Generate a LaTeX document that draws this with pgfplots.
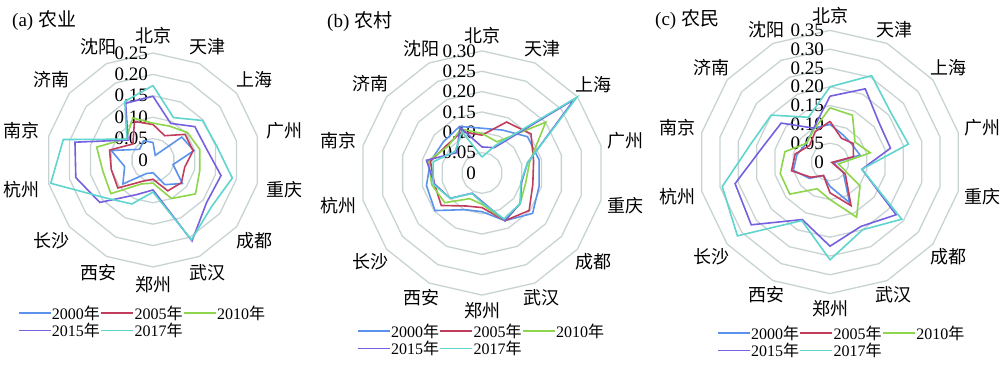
\documentclass[border=0pt]{standalone}
\usepackage{pgfplots}
\pgfplotsset{compat=1.18}
\usepackage{pgfplotstable}
\usepackage{fontspec}
\setmainfont{Liberation Serif}
\newfontfamily\cjk{Noto Sans CJK SC}
\definecolor{c00}{HTML}{5A92EC}
\definecolor{c05}{HTML}{C13D5E}
\definecolor{c10}{HTML}{8DD64C}
\definecolor{c15}{HTML}{7560E0}
\definecolor{c17}{HTML}{5ED5CD}
\definecolor{gridc}{HTML}{C8D3D3}

% columns: k = category index (0 北京 ... 13 沈阳, 14 = 北京 again to close)
\pgfplotstableread{
k y00 y05 y10 y15 y17
0 0.041 0.083 0.086 0.149 0.174
1 0.012 0.063 0.088 0.095 0.110
2 0.086 0.096 0.103 0.125 0.148
3 0.098 0.096 0.112 0.127 0.152
4 0.048 0.076 0.112 0.163 0.190
5 0.088 0.085 0.127 0.160 0.175
6 0.064 0.080 0.100 0.210 0.207
7 0.030 0.045 0.054 0.070 0.075
8 0.035 0.055 0.062 0.090 0.114
9 0.090 0.105 0.126 0.159 0.142
10 0.068 0.100 0.120 0.185 0.245
11 0.100 0.104 0.135 0.187 0.215
12 0.040 0.060 0.080 0.075 0.078
13 0.050 0.100 0.109 0.147 0.152
14 0.041 0.083 0.086 0.149 0.174
}\tabA

\pgfplotstableread{
k y00 y05 y10 y15 y17
0 0.110 0.093 0.097 0.064 0.039
1 0.117 0.139 0.085 0.069 0.075
2 0.143 0.154 0.200 0.290 0.298
3 0.144 0.130 0.120 0.115 0.115
4 0.144 0.128 0.110 0.100 0.098
5 0.159 0.148 0.120 0.120 0.120
6 0.130 0.130 0.130 0.130 0.125
7 0.095 0.085 0.077 0.070 0.073
8 0.100 0.090 0.070 0.055 0.056
9 0.148 0.128 0.117 0.100 0.100
10 0.140 0.120 0.127 0.120 0.123
11 0.130 0.130 0.135 0.140 0.123
12 0.122 0.110 0.106 0.080 0.085
13 0.127 0.113 0.120 0.124 0.113
14 0.110 0.093 0.097 0.064 0.039
}\tabB

\pgfplotstableread{
k y00 y05 y10 y15 y17
0 0.100 0.108 0.144 0.175 0.200
1 0.080 0.070 0.138 0.216 0.255
2 0.075 0.079 0.085 0.167 0.208
3 0.082 0.064 0.110 0.165 0.214
4 0.010 0.005 0.023 0.087 0.087
5 0.045 0.052 0.102 0.225 0.244
6 0.120 0.129 0.163 0.190 0.200
7 0.065 0.082 0.100 0.224 0.260
8 0.040 0.040 0.079 0.170 0.173
9 0.070 0.065 0.137 0.268 0.315
10 0.100 0.105 0.136 0.259 0.294
11 0.090 0.095 0.123 0.183 0.216
12 0.080 0.070 0.080 0.166 0.200
13 0.100 0.090 0.097 0.100 0.132
14 0.100 0.108 0.144 0.175 0.200
}\tabC

\pgfplotsset{
  table/rad/.style={x expr={\thisrow{#1}*sin(\thisrow{k}*360/14)}, y expr={\thisrow{#1}*cos(\thisrow{k}*360/14)}},
  table/ring/.style={x expr={#1*sin(\thisrow{k}*360/14)}, y expr={#1*cos(\thisrow{k}*360/14)}},
  radar/.style={hide axis, clip=false, anchor=south west,
    legend columns=3,
    legend style={draw=none, fill=none, font=\fontsize{16}{18}\selectfont,
      inner sep=0pt, outer sep=0pt, column sep=0pt, row sep=1pt,
      nodes={inner sep=0.6pt}, anchor=north west},
    legend cell align=left,
    legend image code/.code={\draw[##1, line width=1.4pt] (0pt,0pt) -- (32pt,0pt);},
  },
  ser/.style={line width=1.6pt, #1},
}
\newcommand\tl{\fontsize{19}{21}\selectfont}
\newcommand\cl{\cjk\fontsize{18}{20}\selectfont}
\newcommand\leg{\legend{2000{\cjk 年},2005{\cjk 年},2010{\cjk 年},2015{\cjk 年},2017{\cjk 年}}}

\begin{document}
\begin{tikzpicture}
\path[use as bounding box] (0pt,0pt) rectangle (1000pt,366pt);

% ---------- (a) 农业 ----------
\begin{axis}[radar, at={(0pt,0pt)}, x=428pt, y=428pt,
  xmin=-0.35748, xmax=0.41355, ymin=-0.48131, ymax=0.37383,
  legend style={at={(0.0545,0.1667)}}]
\pgfplotsinvokeforeach{0.05,0.10,0.15,0.20,0.25}{
  \addplot[gridc, line width=1.3pt, forget plot] table[ring=#1]{\tabA};
}
\node[anchor=east, font=\tl, inner sep=0pt, xshift=-5pt] at (axis cs:0,0) {0};
\node[anchor=east, font=\tl, inner sep=0pt, xshift=-5pt] at (axis cs:0,0.05) {0.05};
\node[anchor=east, font=\tl, inner sep=0pt, xshift=-5pt] at (axis cs:0,0.10) {0.10};
\node[anchor=east, font=\tl, inner sep=0pt, xshift=-5pt] at (axis cs:0,0.15) {0.15};
\node[anchor=east, font=\tl, inner sep=0pt, xshift=-5pt] at (axis cs:0,0.20) {0.20};
\node[anchor=east, font=\tl, inner sep=0pt, xshift=-5pt] at (axis cs:0,0.25) {0.25};
\addplot[ser=c00] table[rad=y00]{\tabA};
\addplot[ser=c05] table[rad=y05]{\tabA};
\addplot[ser=c10] table[rad=y10]{\tabA};
\addplot[ser=c15] table[rad=y15]{\tabA};
\addplot[ser=c17] table[rad=y17]{\tabA};
\leg
\end{axis}

% ---------- (b) 农村 ----------
\begin{axis}[radar, at={(330pt,0pt)}, x=407pt, y=407pt,
  xmin=-0.37346, xmax=0.43735, ymin=-0.47420, ymax=0.42506,
  legend style={at={(0.0818,0.1175)}}]
\pgfplotsinvokeforeach{0.05,0.10,0.15,0.20,0.25,0.30}{
  \addplot[gridc, line width=1.3pt, forget plot] table[ring=#1]{\tabB};
}
\node[anchor=east, font=\tl, inner sep=0pt, xshift=-6pt] at (axis cs:0,0) {0};
\node[anchor=east, font=\tl, inner sep=0pt, xshift=-6pt] at (axis cs:0,0.05) {0.05};
\node[anchor=east, font=\tl, inner sep=0pt, xshift=-6pt] at (axis cs:0,0.10) {0.10};
\node[anchor=east, font=\tl, inner sep=0pt, xshift=-6pt] at (axis cs:0,0.15) {0.15};
\node[anchor=east, font=\tl, inner sep=0pt, xshift=-6pt] at (axis cs:0,0.20) {0.20};
\node[anchor=east, font=\tl, inner sep=0pt, xshift=-6pt] at (axis cs:0,0.25) {0.25};
\node[anchor=east, font=\tl, inner sep=0pt, xshift=-6pt] at (axis cs:0,0.30) {0.30};
\addplot[ser=c00] table[rad=y00]{\tabB};
\addplot[ser=c05] table[rad=y05]{\tabB};
\addplot[ser=c10] table[rad=y10]{\tabB};
\addplot[ser=c15] table[rad=y15]{\tabB};
\addplot[ser=c17] table[rad=y17]{\tabB};
\leg
\end{axis}

% ---------- (c) 农民 ----------
\begin{axis}[radar, at={(660pt,0pt)}, x=376pt, y=376pt,
  xmin=-0.45213, xmax=0.45213, ymin=-0.54255, ymax=0.43085,
  legend style={at={(0.168,0.112)}}]
\pgfplotsinvokeforeach{0.05,0.10,0.15,0.20,0.25,0.30,0.35}{
  \addplot[gridc, line width=1.3pt, forget plot] table[ring=#1]{\tabC};
}
\node[anchor=east, font=\tl, inner sep=0pt, xshift=-6pt] at (axis cs:0,0) {0};
\node[anchor=east, font=\tl, inner sep=0pt, xshift=-6pt] at (axis cs:0,0.05) {0.05};
\node[anchor=east, font=\tl, inner sep=0pt, xshift=-6pt] at (axis cs:0,0.10) {0.10};
\node[anchor=east, font=\tl, inner sep=0pt, xshift=-6pt] at (axis cs:0,0.15) {0.15};
\node[anchor=east, font=\tl, inner sep=0pt, xshift=-6pt] at (axis cs:0,0.20) {0.20};
\node[anchor=east, font=\tl, inner sep=0pt, xshift=-6pt] at (axis cs:0,0.25) {0.25};
\node[anchor=east, font=\tl, inner sep=0pt, xshift=-6pt] at (axis cs:0,0.30) {0.30};
\node[anchor=east, font=\tl, inner sep=0pt, xshift=-6pt] at (axis cs:0,0.35) {0.35};
\addplot[ser=c00] table[rad=y00]{\tabC};
\addplot[ser=c05] table[rad=y05]{\tabC};
\addplot[ser=c10] table[rad=y10]{\tabC};
\addplot[ser=c15] table[rad=y15]{\tabC};
\addplot[ser=c17] table[rad=y17]{\tabC};
\leg
\end{axis}

% category labels (anchored on the side facing the centre)
\foreach \n [count=\i from 0] in {北京,天津,上海,广州,重庆,成都,武汉,郑州,西安,长沙,杭州,南京,济南,沈阳}{
  \pgfmathsetmacro\ang{90-\i*360/14}
  \pgfmathsetmacro\anc{270-\i*360/14}
  \path (153pt,206pt) ++ (\ang:116pt) node[font=\cl, inner sep=0pt, anchor=\anc] {\n};
  \path (482pt,193pt) ++ (\ang:129pt) node[font=\cl, inner sep=0pt, anchor=\anc] {\n};
  \path (830pt,204pt) ++ (\ang:138pt) node[font=\cl, inner sep=0pt, anchor=\anc] {\n};
}
% panel titles
\node[anchor=west, font=\tl, inner sep=0pt] at (12pt,345pt) {(a) {\cjk 农业}};
\node[anchor=west, font=\tl, inner sep=0pt] at (327pt,344pt) {(b) {\cjk 农村}};
\node[anchor=west, font=\tl, inner sep=0pt] at (655pt,346pt) {(c) {\cjk 农民}};
\end{tikzpicture}
\end{document}
